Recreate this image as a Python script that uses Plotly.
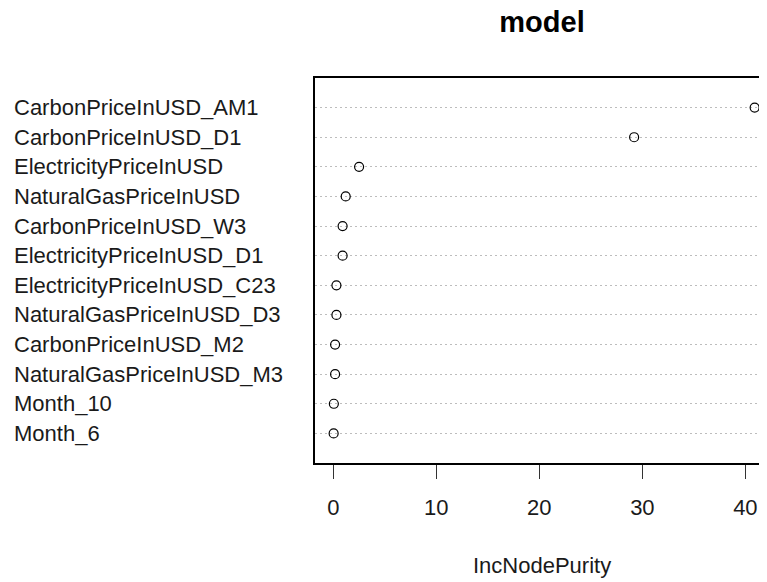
import plotly.graph_objects as go

variables = [
    "CarbonPriceInUSD_AM1",
    "CarbonPriceInUSD_D1",
    "ElectricityPriceInUSD",
    "NaturalGasPriceInUSD",
    "CarbonPriceInUSD_W3",
    "ElectricityPriceInUSD_D1",
    "ElectricityPriceInUSD_C23",
    "NaturalGasPriceInUSD_D3",
    "CarbonPriceInUSD_M2",
    "NaturalGasPriceInUSD_M3",
    "Month_10",
    "Month_6",
]
inc_node_purity = [40.9, 29.2, 2.5, 1.2, 0.9, 0.9, 0.3, 0.3, 0.17, 0.17, 0.05, 0.03]
x_ticks = [0, 10, 20, 30, 40]

n = len(variables)
positions = [n - i for i in range(n)]  # top row highest

OFF = 8  # page body margin
W, H = 767 - OFF, 582 - OFF
L, T = 315 - OFF, 78 - OFF
PLOT_BOTTOM = 463 - OFF
R = 0
B = H - PLOT_BOTTOM
pw = W - L - R
ph = PLOT_BOTTOM - T

font = "Liberation Sans, Arial, sans-serif"
txt = "#1a1a1a"

fig = go.Figure()
fig.add_trace(go.Scatter(
    x=inc_node_purity, y=positions, mode="markers",
    marker=dict(symbol="circle-open", size=9, color="black", line=dict(width=1.2, color="black")),
    showlegend=False, hoverinfo="x+text", text=variables, cliponaxis=False,
))

for name, pos in zip(variables, positions):
    fig.add_annotation(
        x=(12 - OFF - L) / pw, xref="paper", xanchor="left",
        y=pos, yref="y", yanchor="middle",
        text=name, showarrow=False,
        font=dict(family=font, size=22, color=txt),
    )

fig.add_annotation(
    x=(542 - OFF - L) / pw, xref="paper", xanchor="center",
    y=(ph - (565 - OFF - T)) / ph, yref="paper", yanchor="middle",
    text="IncNodePurity", showarrow=False,
    font=dict(family=font, size=22, color=txt),
)

fig.update_layout(
    width=W, height=H,
    margin=dict(l=L, r=R, t=T, b=B, pad=0),
    paper_bgcolor="white", plot_bgcolor="white",
    title=dict(text="<b>model</b>", x=(542 - OFF - L) / pw, xref="paper", xanchor="center",
               y=1 - (22 - OFF) / H, yanchor="middle",
               font=dict(family=font, size=29, color="black")),
    xaxis=dict(
        range=[-1.78, 42.1], tickvals=x_ticks, ticktext=[str(v) for v in x_ticks],
        showgrid=False, zeroline=False,
        showline=True, linecolor="black", linewidth=1.5, mirror=True,
        ticks="outside", ticklen=14, tickwidth=1.2, tickcolor="#333",
        ticklabelstandoff=10,
        tickfont=dict(family=font, size=22, color=txt),
    ),
    yaxis=dict(
        range=[0, n + 1], tickvals=positions, showticklabels=False,
        showgrid=True, gridcolor="#bdbdbd", griddash="2px,3px", gridwidth=1,
        zeroline=False, showline=True, linecolor="black", linewidth=1.5,
        ticks="",
    ),
)

fig.write_html("out.html")
